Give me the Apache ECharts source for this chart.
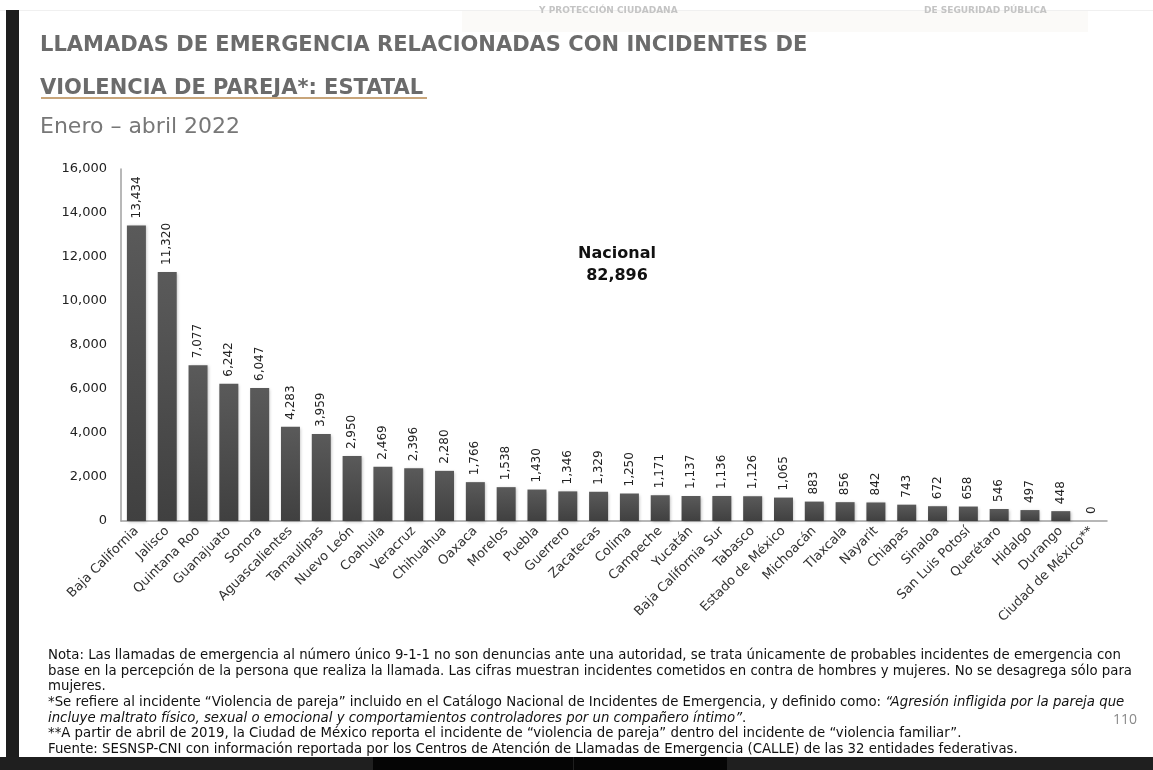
<!DOCTYPE html>
<html>
<head>
<meta charset="utf-8">
<script src="https://cdn.jsdelivr.net/npm/echarts@6/dist/echarts.min.js"></script>
<style>
html,body{margin:0;padding:0;background:#fff;}
#c{width:1153px;height:770px;}
</style>
</head>
<body>
<div id="c"></div>
<script>
const categories = ["Baja California","Jalisco","Quintana Roo","Guanajuato","Sonora","Aguascalientes","Tamaulipas","Nuevo León","Coahuila","Veracruz","Chihuahua","Oaxaca","Morelos","Puebla","Guerrero","Zacatecas","Colima","Campeche","Yucatán","Baja California Sur","Tabasco","Estado de México","Michoacán","Tlaxcala","Nayarit","Chiapas","Sinaloa","San Luis Potosí","Querétaro","Hidalgo","Durango","Ciudad de México**"];
const values = [13434,11320,7077,6242,6047,4283,3959,2950,2469,2396,2280,1766,1538,1430,1346,1329,1250,1171,1137,1136,1126,1065,883,856,842,743,672,658,546,497,448,0];
const nationalTotal = 82896;
const titleLines = ["LLAMADAS DE EMERGENCIA RELACIONADAS CON INCIDENTES DE","VIOLENCIA DE PAREJA*: ESTATAL"];
const subtitle = "Enero – abril 2022";

const fmt = v => Number(v).toLocaleString('en-US');
const FONT = "'DejaVu Sans', 'Noto Sans', sans-serif";
const NFONT = "'DejaVu Sans', 'Noto Sans', sans-serif";

const noteLines = [
  {y:656, rich:[["n","Nota: Las llamadas de emergencia al número único 9-1-1 no son denuncias ante una autoridad, se trata únicamente de probables incidentes de emergencia con"]]},
  {y:672, rich:[["n","base en la percepción de la persona que realiza la llamada. Las cifras muestran incidentes cometidos en contra de hombres y mujeres. No se desagrega sólo para"]]},
  {y:687, rich:[["n","mujeres."]]},
  {y:703, rich:[["n","*Se refiere al incidente “Violencia de pareja” incluido en el Catálogo Nacional de Incidentes de Emergencia, y definido como: "],["i","“Agresión infligida por la pareja que"]]},
  {y:719, rich:[["i","incluye maltrato físico, sexual o emocional y comportamientos controladores por un compañero íntimo”"],["n","."]]},
  {y:734, rich:[["n","**A partir de abril de 2019, la Ciudad de México reporta el incidente de “violencia de pareja” dentro del incidente de “violencia familiar”."]]},
  {y:750, rich:[["n","Fuente: SESNSP-CNI con información reportada por los Centros de Atención de Llamadas de Emergencia (CALLE) de las 32 entidades federativas."]]}
];

const chart = echarts.init(document.getElementById('c'), null, {renderer:'canvas'});

const graphics = [
  {type:'rect', shape:{x:462,y:10,width:626,height:22}, style:{fill:'#fbfaf8'}, silent:true},
  {type:'rect', shape:{x:0,y:10,width:1153,height:1}, style:{fill:'#f0f0f0'}, silent:true},
  {type:'text', left:539, top:6, style:{text:'Y PROTECCIÓN CIUDADANA', font:"bold 9px "+FONT, fill:'#c4c4c4'}},
  {type:'text', left:924, top:6, style:{text:'DE SEGURIDAD PÚBLICA', font:"bold 9px "+FONT, fill:'#c4c4c4'}},
  {type:'rect', shape:{x:6,y:10,width:13,height:747}, style:{fill:'#1e1e1e'}, silent:true},
  {type:'text', left:40, top:35, style:{text:titleLines[0], font:"bold 21px "+FONT, fill:'#6b6b6b'}},
  {type:'text', left:40, top:78, style:{text:titleLines[1], font:"bold 21px "+FONT, fill:'#6b6b6b'}},
  {type:'rect', shape:{x:41,y:97,width:386,height:2}, style:{fill:'#c8a57a'}, silent:true},
  {type:'text', left:40, top:116, style:{text:subtitle, font:"22px "+FONT, fill:'#777777'}},
  {type:'text', x:617, y:254, style:{text:'Nacional', font:"bold 16px "+FONT, fill:'#111', textAlign:'center', textVerticalAlign:'middle'}},
  {type:'text', x:617, y:276, style:{text:fmt(nationalTotal), font:"bold 16px "+FONT, fill:'#111', textAlign:'center', textVerticalAlign:'middle'}},
  {type:'text', x:1113, y:720, style:{text:'110', font:"14px 'Open Sans', sans-serif", fill:'#8a8a8a', textVerticalAlign:'middle'}},
  {type:'rect', shape:{x:0,y:757,width:1153,height:13}, style:{fill:'#1f1f1f'}, silent:true},
  {type:'rect', shape:{x:373,y:757,width:200,height:13}, style:{fill:'#050505'}, silent:true},
  {type:'rect', shape:{x:574,y:757,width:153,height:13}, style:{fill:'#050505'}, silent:true}
];

noteLines.forEach(l => {
  const txt = l.rich.map(p => '{' + p[0] + '|' + p[1] + '}').join('');
  graphics.push({type:'text', x:48, y:l.y, style:{
    text: txt, textVerticalAlign:'middle',
    rich:{
      n:{font:"13.3px "+NFONT, fill:'#111'},
      i:{font:"italic 13.3px "+NFONT, fill:'#111'}
    }
  }});
});

chart.setOption({
  animation:false,
  backgroundColor:'#ffffff',
  grid:{left:121, right:46, top:169, bottom:249, containLabel:false},
  xAxis:{
    type:'category',
    data:categories,
    axisLine:{lineStyle:{color:'#a0a0a0', width:1.5}},
    axisTick:{show:false},
    axisLabel:{interval:0, rotate:45, fontSize:13, fontFamily:FONT, color:'#333', margin:8}
  },
  yAxis:{
    type:'value', min:0, max:16000, interval:2000,
    axisLine:{show:true, lineStyle:{color:'#a0a0a0', width:1.5}},
    axisTick:{show:false},
    splitLine:{show:false},
    axisLabel:{formatter:v=>fmt(v), fontSize:13, fontFamily:FONT, color:'#222', margin:14}
  },
  series:[{
    type:'bar',
    data:values,
    barWidth:19,
    itemStyle:{
      color:new echarts.graphic.LinearGradient(0,0,0,1,[{offset:0,color:'#5a5a5a'},{offset:1,color:'#404040'}]),
      shadowColor:'rgba(0,0,0,0.25)', shadowBlur:3, shadowOffsetX:1, shadowOffsetY:1
    },
    label:{show:true, position:'top', rotate:90, align:'left', verticalAlign:'middle', distance:7,
      formatter:p=>fmt(p.value), fontSize:12, fontFamily:FONT, color:'#222'}
  }],
  graphic:graphics
});
</script>
</body>
</html>
